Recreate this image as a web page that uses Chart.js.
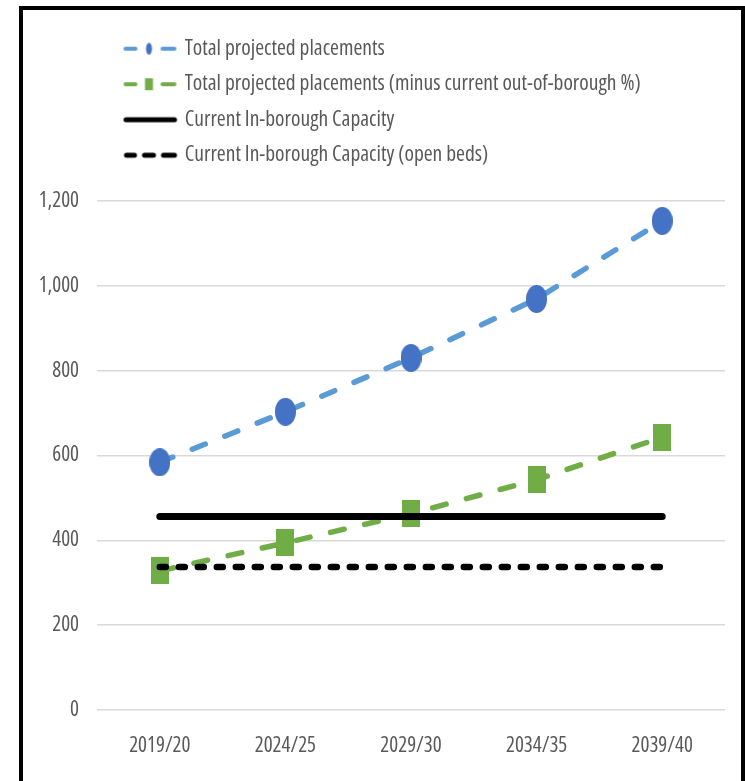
<!DOCTYPE html>
<html>
<head>
<meta charset="utf-8">
<script src="https://cdn.jsdelivr.net/npm/chart.js@4/dist/chart.umd.min.js"></script>
<style>
html, body { margin: 0; padding: 0; background: #fff; }
#wrap { position: relative; width: 745px; height: 781px; overflow: hidden; background: #fff; }
#c { position: absolute; left: 0; top: 0; }
#frame { position: absolute; left: 19px; top: 6px; right: 0; bottom: -10px; border-left: 4px solid #000; border-top: 4px solid #000; border-right: 4px solid #000; pointer-events: none; }
</style>
</head>
<body>
<div id="wrap">
  <canvas id="c" width="745" height="781"></canvas>
  <div id="frame"></div>
</div>
<script>
// ---- data ----
const categories = ['2019/20', '2024/25', '2029/30', '2034/35', '2039/40'];
const seriesNames = [
  'Total projected placements',
  'Total projected placements (minus current out-of-borough %)',
  'Current In-borough Capacity',
  'Current In-borough Capacity (open beds)'
];
const totalProjected = [584, 703, 830, 969, 1153];
const minusOutOfBorough = [328, 394, 463, 543, 643];
const inBoroughCapacity = [456, 456, 456, 456, 456];
const openBedsCapacity = [337, 337, 337, 337, 337];
const yTicks = [0, 200, 400, 600, 800, 1000, 1200];

// ---- styles ----
const FONT = "'Open Sans', 'Noto Sans', sans-serif";
const FONT_SIZE = 21;
const LEGEND_FONT_SIZE = 21.5;
const TEXT = '#595959';
const BLUE_LINE = '#5B9BD5', BLUE_MARK = '#4472C4', GREEN = '#70AD47';

function markerCanvas(w, h, color, shape) {
  const c = document.createElement('canvas');
  c.width = w; c.height = h;
  const g = c.getContext('2d');
  g.fillStyle = color;
  if (shape === 'ellipse') {
    g.beginPath(); g.ellipse(w / 2, h / 2, w / 2, h / 2, 0, 0, Math.PI * 2); g.fill();
  } else {
    g.fillRect(0, 0, w, h);
  }
  return c;
}

function legendSample(kind) {
  const c = document.createElement('canvas');
  c.width = 72; c.height = 20;
  const g = c.getContext('2d');
  g.lineCap = 'round';
  const seg = (a, b, w, col) => { g.strokeStyle = col; g.lineWidth = w; g.beginPath(); g.moveTo(a, 10); g.lineTo(b, 10); g.stroke(); };
  if (kind === 0) {
    seg(19, 29, 4, BLUE_LINE); seg(56, 68, 4, BLUE_LINE);
    g.fillStyle = BLUE_MARK; g.beginPath(); g.ellipse(42.5, 10, 3, 6, 0, 0, Math.PI * 2); g.fill();
  } else if (kind === 1) {
    seg(19, 29, 4, GREEN); seg(56, 68, 4, GREEN);
    g.fillStyle = GREEN; g.fillRect(38.5, 4, 8, 12);
  } else if (kind === 2) {
    seg(19.5, 68, 5, '#000');
  } else {
    seg(20, 28, 5, '#000'); seg(38, 47, 5, '#000'); seg(57, 68, 5, '#000');
  }
  return c;
}
const legendSamples = [0, 1, 2, 3].map(legendSample);

// extra space under the legend
const legendGap = {
  id: 'legendGap',
  beforeLayout(chart) {
    const lg = chart.legend;
    if (lg && !lg._gapPatched) {
      lg._gapPatched = true;
      const orig = lg.fit;
      lg.fit = function () { orig.call(this); this.height += 25; };
    }
  }
};

Chart.defaults.font.family = FONT;
Chart.defaults.font.size = FONT_SIZE;
Chart.defaults.font.weight = 'condensed';
Chart.defaults.color = TEXT;

new Chart(document.getElementById('c'), {
  type: 'line',
  data: {
    labels: categories,
    datasets: [
      { label: seriesNames[0], data: totalProjected, borderColor: BLUE_LINE, backgroundColor: BLUE_MARK,
        borderWidth: 5.5, borderDash: [14, 21], borderCapStyle: 'round', pointStyle: markerCanvas(21, 28, BLUE_MARK, 'ellipse'),
        pointRadius: 10, fill: false, tension: 0, order: 2 },
      { label: seriesNames[1], data: minusOutOfBorough, borderColor: GREEN, backgroundColor: GREEN,
        borderWidth: 5.5, borderDash: [14, 21], borderCapStyle: 'round', pointStyle: markerCanvas(18, 27, GREEN, 'rect'),
        pointRadius: 10, fill: false, tension: 0, order: 3 },
      { label: seriesNames[2], data: inBoroughCapacity, borderColor: '#000', backgroundColor: '#000',
        borderWidth: 7, borderCapStyle: 'round', pointRadius: 0, fill: false, order: 0 },
      { label: seriesNames[3], data: openBedsCapacity, borderColor: '#000', backgroundColor: '#000',
        borderWidth: 6.5, borderDash: [6, 13], borderCapStyle: 'round', pointRadius: 0, fill: false, order: 1 }
    ]
  },
  options: {
    responsive: false,
    animation: false,
    devicePixelRatio: 1,
    layout: { padding: { left: 23, right: 20, top: 24, bottom: 21 } },
    plugins: {
      tooltip: { enabled: false },
      legend: {
        position: 'top', align: 'start', fullSize: false,
        labels: {
          usePointStyle: true, pointStyleWidth: 63, padding: 14, color: TEXT,
          font: { size: LEGEND_FONT_SIZE },
          sort: (a, b) => a.datasetIndex - b.datasetIndex,
          generateLabels(chart) {
            const items = Chart.defaults.plugins.legend.labels.generateLabels(chart);
            items.forEach(it => { it.pointStyle = legendSamples[it.datasetIndex]; });
            return items;
          }
        }
      }
    },
    scales: {
      x: {
        offset: true,
        grid: { display: false, drawTicks: false },
        border: { display: false },
        ticks: { padding: 23, color: TEXT },
        afterFit(s) { s.height = 50; }
      },
      y: {
        min: yTicks[0], max: yTicks[yTicks.length - 1],
        afterBuildTicks(s) { s.ticks = yTicks.map(v => ({ value: v })); },
        grid: { color: '#d9d9d9', lineWidth: 1.5, drawTicks: false },
        border: { display: false },
        ticks: { padding: 18, color: TEXT, callback: v => Number(v).toLocaleString('en-US') },
        afterFit(s) { s.width = 74; }
      }
    }
  },
  plugins: [legendGap]
});
</script>
</body>
</html>
